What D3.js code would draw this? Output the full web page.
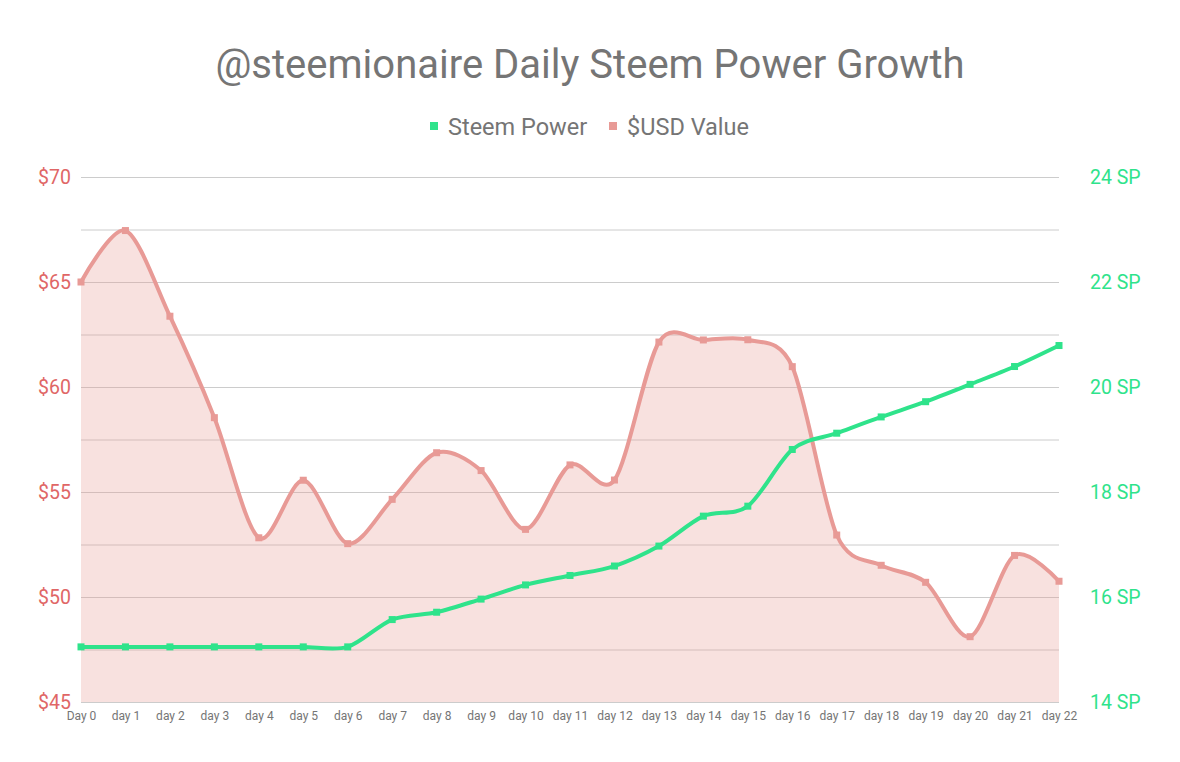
<!DOCTYPE html>
<html><head><meta charset="utf-8">
<script src="https://cdn.jsdelivr.net/npm/d3@7"></script>
<style>body{margin:0;background:#fff;font-family:Roboto,"Noto Sans",sans-serif}</style>
</head><body><svg id="c" width="1180" height="762"></svg>
<script>
const days = ["Day 0","day 1","day 2","day 3","day 4","day 5","day 6","day 7","day 8","day 9","day 10","day 11","day 12","day 13","day 14","day 15","day 16","day 17","day 18","day 19","day 20","day 21","day 22"];
const steemPower = [15.05,15.05,15.05,15.05,15.05,15.05,15.05,15.57,15.71,15.96,16.23,16.41,16.59,16.97,17.54,17.73,18.81,19.12,19.43,19.72,20.05,20.39,20.79];
const usdValue = [65.0,67.45,63.37,58.54,52.82,55.56,52.54,54.65,56.87,56.02,53.22,56.29,55.57,62.14,62.24,62.25,60.97,52.95,51.51,50.70,48.11,51.98,50.75];
const usdTicks = [45,50,55,60,65,70];
const spTicks = [14,16,18,20,22,24];
const gridTicks = [45,47.5,50,52.5,55,57.5,60,62.5,65,67.5,70];

const svg = d3.select("#c");
const L = 81, R = 1059, T = 177, B = 702;
const x = d3.scalePoint().domain(days).range([L, R]);
const yL = d3.scaleLinear().domain([45,70]).range([B, T]);
const yR = d3.scaleLinear().domain([14,24]).range([B, T]);

const green = "#2fe38b", pink = "#e89a96", pinkFill = "rgba(232,154,150,0.3)";

svg.append("text").attr("x",590).attr("y",78).attr("text-anchor","middle")
  .attr("font-size",40).attr("fill","#757575").text("@steemionaire Daily Steem Power Growth");

// legend
const lg = svg.append("g");
lg.append("rect").attr("x",430).attr("y",122).attr("width",8).attr("height",8).attr("fill",green);
lg.append("text").attr("x",448).attr("y",135).attr("font-size",23.5).attr("fill","#757575").text("Steem Power");
lg.append("rect").attr("x",609).attr("y",122).attr("width",8).attr("height",8).attr("fill",pink);
lg.append("text").attr("x",627).attr("y",135).attr("font-size",23.5).attr("fill","#757575").text("$USD Value");

// grid
svg.append("g").selectAll("line").data(gridTicks).join("line")
  .attr("x1",L).attr("x2",R).attr("y1",d=>yL(d)+0.5).attr("y2",d=>yL(d)+0.5)
  .attr("stroke","#cccccc").attr("stroke-width",1);

// left axis
const axL = svg.append("g").attr("transform",`translate(${L},0)`)
  .call(d3.axisLeft(yL).tickValues(usdTicks).tickFormat(d=>"$"+d).tickSize(0).tickPadding(10));
axL.select(".domain").remove();
axL.selectAll("text").attr("font-size",19.5).attr("fill","#e06666").attr("font-family","Roboto");

// right axis
const axR = svg.append("g").attr("transform",`translate(${R},0)`)
  .call(d3.axisRight(yR).tickValues(spTicks).tickFormat(d=>d+" SP").tickSize(0).tickPadding(31));
axR.select(".domain").remove();
axR.selectAll("text").attr("font-size",19.5).attr("fill",green).attr("font-family","Roboto");

// x axis
const axX = svg.append("g").attr("transform",`translate(0,${B})`)
  .call(d3.axisBottom(x).tickSize(0).tickPadding(9));
axX.select(".domain").remove();
axX.selectAll("text").attr("font-size",12).attr("fill","#757575").attr("font-family","Roboto");

const curve = d3.curveCardinal.tension(0.1);
const usdData = days.map((d,i)=>({d, v: usdValue[i]}));
const spData = days.map((d,i)=>({d, v: steemPower[i]}));

svg.append("path").datum(usdData)
  .attr("d", d3.area().x(p=>x(p.d)).y0(B).y1(p=>yL(p.v)).curve(curve))
  .attr("fill", pinkFill);
svg.append("path").datum(usdData)
  .attr("d", d3.line().x(p=>x(p.d)).y(p=>yL(p.v)).curve(curve))
  .attr("fill","none").attr("stroke",pink).attr("stroke-width",4);
svg.append("g").selectAll("rect").data(usdData).join("rect")
  .attr("x",p=>x(p.d)-3.5).attr("y",p=>yL(p.v)-3.5).attr("width",7).attr("height",7).attr("fill",pink);

svg.append("path").datum(spData)
  .attr("d", d3.line().x(p=>x(p.d)).y(p=>yR(p.v)).curve(curve))
  .attr("fill","none").attr("stroke",green).attr("stroke-width",4);
svg.append("g").selectAll("rect").data(spData).join("rect")
  .attr("x",p=>x(p.d)-3.5).attr("y",p=>yR(p.v)-3.5).attr("width",7).attr("height",7).attr("fill",green);
</script></body></html>
